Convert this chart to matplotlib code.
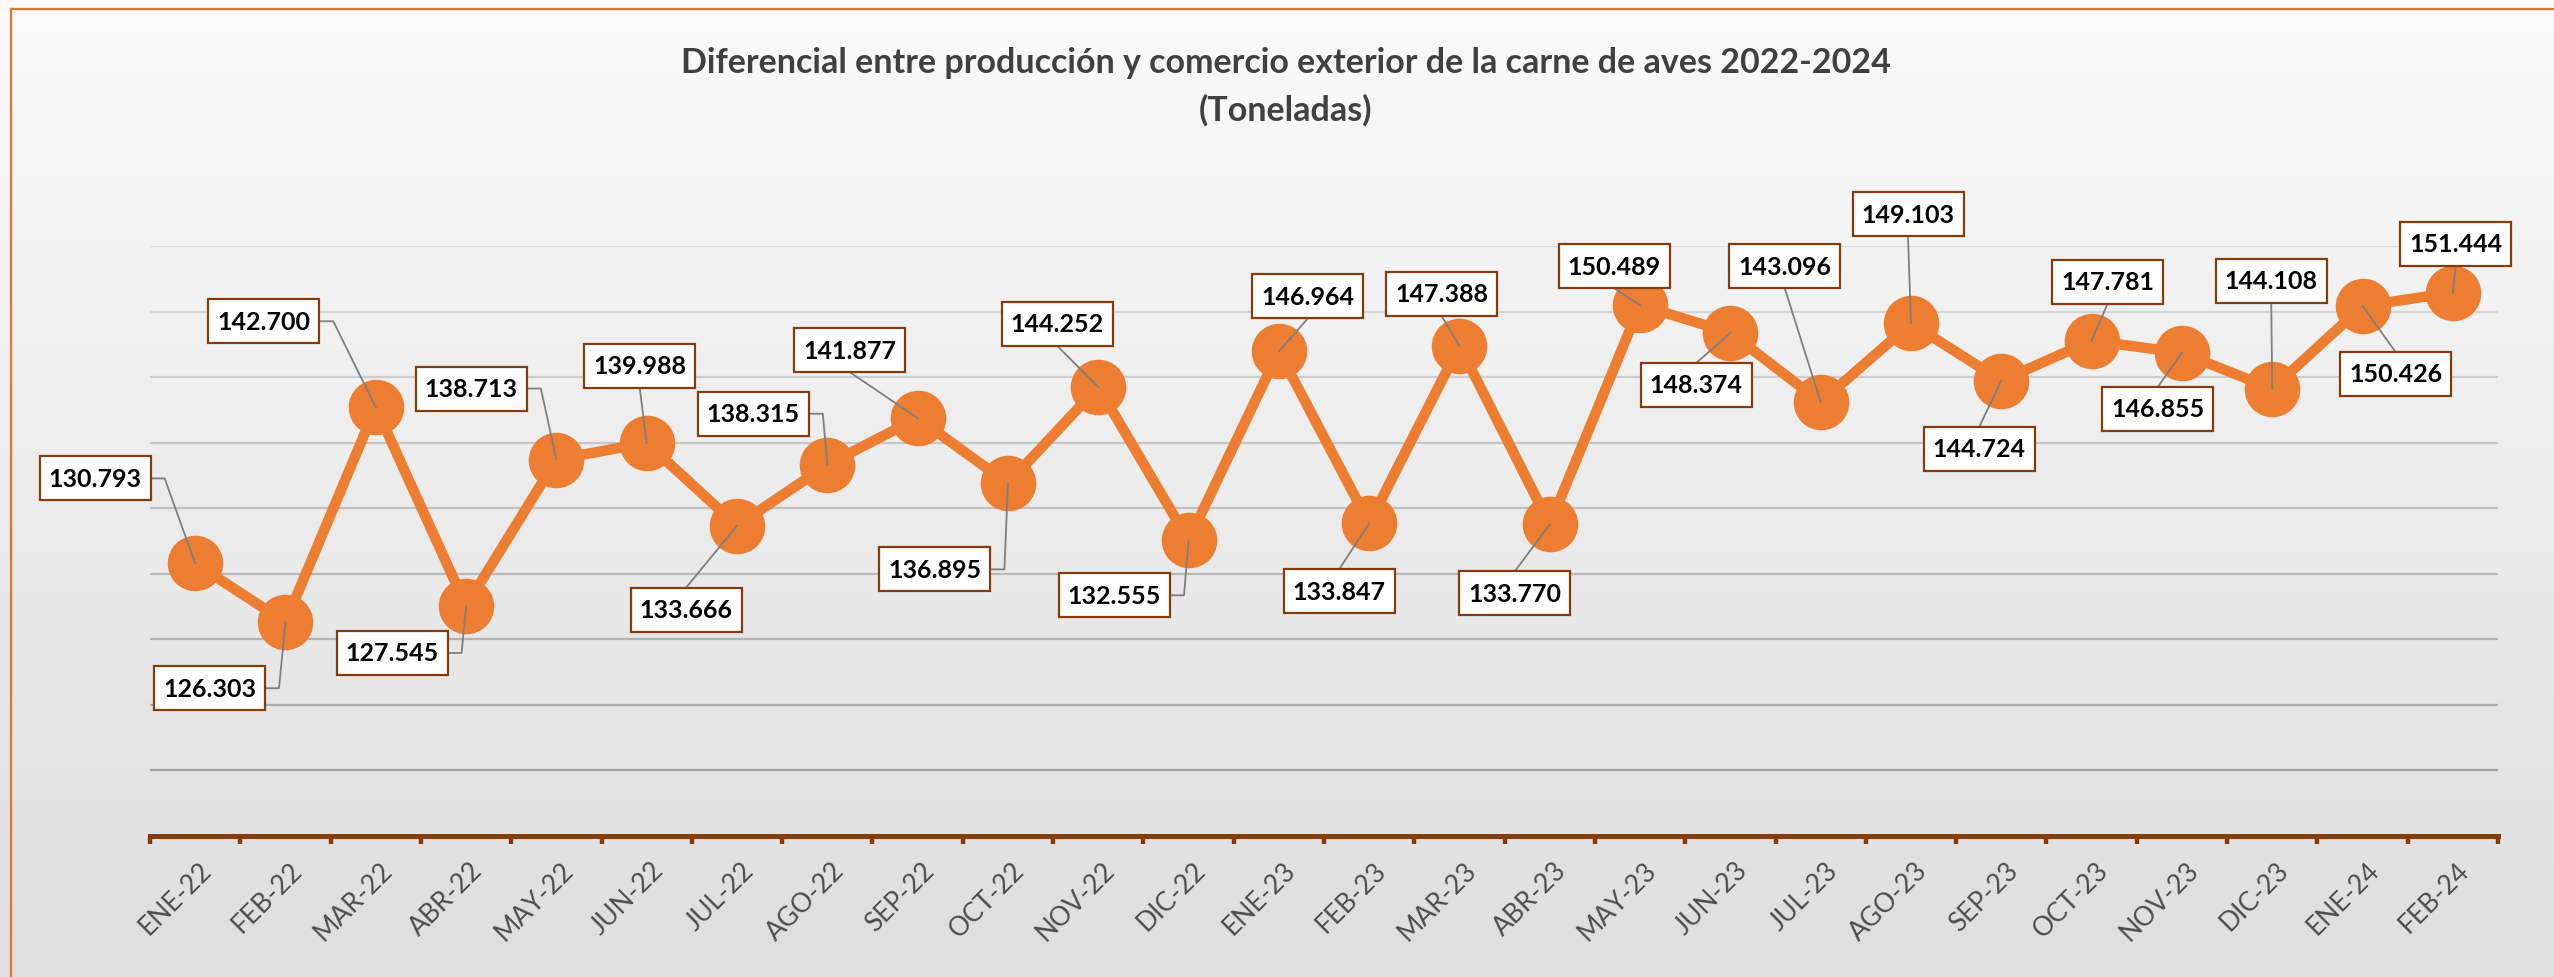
import numpy as np
import matplotlib

matplotlib.use("Agg")
import matplotlib.pyplot as plt
from matplotlib.colors import LinearSegmentedColormap, to_rgb
from matplotlib.lines import Line2D
from matplotlib.patches import Rectangle
from matplotlib.transforms import IdentityTransform, ScaledTranslation

# --- data -------------------------------------------------------------
months = [
    "ENE-22", "FEB-22", "MAR-22", "ABR-22", "MAY-22", "JUN-22", "JUL-22",
    "AGO-22", "SEP-22", "OCT-22", "NOV-22", "DIC-22", "ENE-23", "FEB-23",
    "MAR-23", "ABR-23", "MAY-23", "JUN-23", "JUL-23", "AGO-23", "SEP-23",
    "OCT-23", "NOV-23", "DIC-23", "ENE-24", "FEB-24",
]
# miles de toneladas (se muestran como 130.793 etc.)
values = [
    130.793, 126.303, 142.700, 127.545, 138.713, 139.988, 133.666,
    138.315, 141.877, 136.895, 144.252, 132.555, 146.964, 133.847,
    147.388, 133.770, 150.489, 148.374, 143.096, 149.103, 144.724,
    147.781, 146.855, 144.108, 150.426, 151.444,
]
title_lines = [
    "Diferencial entre producción y comercio exterior de la carne de aves 2022-2024",
    "(Toneladas)",
]

# --- style / layout ---------------------------------------------------
W, H = 2554, 978
DPI = 100
ORANGE = "#ED7D31"
BROWN = "#843C0C"
FONT = "Lato"

# desplazamiento de cada etiqueta respecto al punto (px, y hacia abajo) y lado del conector
label_offsets = [
    (-100, -85), (-76, 66), (-112, -86), (-74, 47), (-85, -71), (-7, -77),
    (-51, 84), (-74, -51), (-68, -68), (-73, 86), (-41, -63), (-74, 55),
    (29, -55), (-30, 68), (-18, -52), (-35, 69), (-26, -39), (-34, 52),
    (-36, -136), (-3, -109), (-22, 68), (16, -59), (-24, 56), (-1, -108),
    (33, 68), (3, -49),
]
leader_side = "rrrrrbtrbrbrbtbtbtbbtbtbtb"
BOX_W, BOX_H = 111, 44

fig = plt.figure(figsize=(W / DPI, H / DPI), dpi=DPI)

# fondo degradado
bg = fig.add_axes([0, 0, 1, 1], zorder=-10)
grad = np.linspace(0, 1, 256).reshape(-1, 1)
bg.imshow(grad, aspect="auto", extent=[0, 1, 0, 1],
          cmap=LinearSegmentedColormap.from_list("bg", ["#fafafa", "#dedede"]))
bg.axis("off")

# borde naranja (izquierda y arriba)
bx, by = 11 / W, 1 - 10 / H
fig.add_artist(Line2D([bx, bx], [0, by], color="#E2742F", lw=1.6))
fig.add_artist(Line2D([bx, 1], [by, by], color="#E2742F", lw=1.6))

ax = fig.add_axes([150 / W, 141 / H, 2348 / W, 590 / H])
ax.set_facecolor("none")
ax.set_xlim(-0.5, len(months) - 0.5)
ax.set_ylim(110, 155)

# líneas de cuadrícula, más oscuras hacia abajo
levels = np.arange(115, 156, 5)
c_top, c_bot = np.array(to_rgb("#dcdcdc")), np.array(to_rgb("#a4a4a4"))
for lv in levels:
    t = (155 - lv) / 40
    ax.axhline(lv, color=c_top + (c_bot - c_top) * t, lw=1.6, zorder=1)

x = np.arange(len(months))
ax.plot(x, values, color=ORANGE, lw=7.5, marker="o", markersize=39,
        markerfacecolor=ORANGE, markeredgecolor=ORANGE, zorder=3, clip_on=False)

for side in ["left", "right", "top"]:
    ax.spines[side].set_visible(False)
ax.spines["bottom"].set_color(BROWN)
ax.spines["bottom"].set_linewidth(3.6)
ax.set_yticks([])

ax.set_xticks(x)
ax.set_xticklabels(months, fontsize=19, color="#4d4d4d", family=FONT)
ax.tick_params(axis="x", which="major", length=0, pad=15)
ax.set_xticks(np.arange(-0.5, len(months), 1), minor=True)
ax.tick_params(axis="x", which="minor", length=6, width=3.2, color=BROWN, direction="out")
shift = ScaledTranslation(4 / DPI, 0, fig.dpi_scale_trans)
for lab in ax.get_xticklabels():
    lab.set_rotation(45)
    lab.set_ha("right")
    lab.set_va("top")
    lab.set_rotation_mode("anchor")
    lab.set_transform(lab.get_transform() + shift)

# etiquetas de datos con recuadro y línea guía
ident = IdentityTransform()
for i, v in enumerate(values):
    px, py = ax.transData.transform((i, v))
    dx, dy = label_offsets[i]
    cx, cy = px + dx, py - dy
    left, right = cx - BOX_W / 2, cx + BOX_W / 2
    bottom, top = cy - BOX_H / 2, cy + BOX_H / 2
    side = leader_side[i]
    if side == "r":
        xs, ys = [right, right + 14, px], [cy, cy, py]
    elif side == "l":
        xs, ys = [left, left - 14, px], [cy, cy, py]
    elif side == "b":
        xs, ys = [cx, px], [bottom, py]
    else:
        xs, ys = [cx, px], [top, py]
    fig.add_artist(Line2D(xs, ys, transform=ident, color="#7f7f7f", lw=1.3, zorder=5))
    fig.add_artist(Rectangle((left, bottom), BOX_W, BOX_H, transform=ident,
                             facecolor="white", edgecolor=BROWN, lw=1.6, zorder=6))
    fig.text(cx, cy, f"{v:.3f}", transform=ident, ha="center", va="center",
             fontsize=18, fontweight="bold", color="black", family=FONT, zorder=7)

fig.text(1286 / W, 1 - 63 / H, title_lines[0], ha="center", va="center",
         fontsize=24.5, fontweight="bold", color="#404040", family=FONT)
fig.text(1286 / W, 1 - 110 / H, title_lines[1], ha="center", va="center",
         fontsize=24.5, fontweight="bold", color="#404040", family=FONT)

fig.savefig("out.png", dpi=DPI)
